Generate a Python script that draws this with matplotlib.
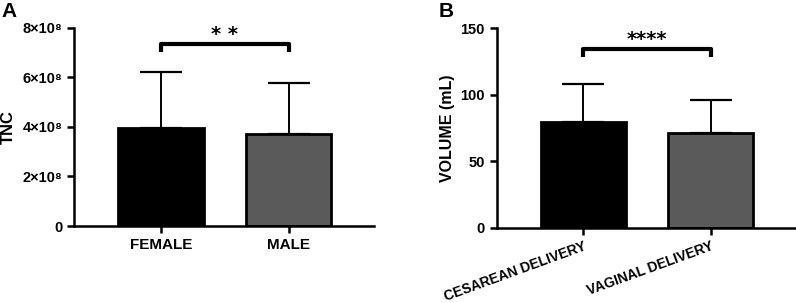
import numpy as np
import matplotlib
matplotlib.use('Agg')
from matplotlib import pyplot as plt

plt.rcParams['font.family'] = ['Liberation Sans', 'DejaVu Sans']
plt.rcParams['font.weight'] = 'bold'
plt.rcParams['axes.labelweight'] = 'bold'

# panel A
sex_labels = ['FEMALE', 'MALE']
tnc_mean = [3.96e8, 3.70e8]
tnc_sd = [2.25e8, 2.08e8]
tnc_ticks = [0, 2e8, 4e8, 6e8, 8e8]
tnc_ticklabels = ['0', '2×10⁸', '4×10⁸', '6×10⁸', '8×10⁸']

# panel B
delivery_labels = ['CESAREAN DELIVERY', 'VAGINAL DELIVERY']
vol_mean = [79.7, 71.0]
vol_sd = [28.3, 25.0]
vol_ticks = [0, 50, 100, 150]

colors = ['black', '#5a5a5a']

fig = plt.figure(figsize=(7.96, 3.03), dpi=100)
axA = fig.add_axes([0.093, 0.254, 0.377, 0.654])
axB = fig.add_axes([0.624, 0.249, 0.376, 0.657])


def bars(ax, labels, mean, sd):
    x = np.arange(len(labels))
    ax.bar(x, mean, width=0.67, color=colors, edgecolor='black', linewidth=2, zorder=2)
    ax.errorbar(x, mean, yerr=[np.zeros(len(sd)), sd], fmt='none', ecolor='black',
                elinewidth=1.4, capsize=15, capthick=1.6, zorder=1)
    ax.set_xlim(-0.68, 1.67)
    ax.set_xticks(x)
    for s in ['top', 'right']:
        ax.spines[s].set_visible(False)
    for s in ['left', 'bottom']:
        ax.spines[s].set_linewidth(1.8)
    ax.tick_params(width=1.8, length=5, labelsize=10.5)
    return x


def bracket(ax, x0, x1, y, h, text, ty):
    ax.plot([x0, x0, x1, x1], [y - h, y, y, y - h], color='black', lw=3,
            solid_capstyle='butt', clip_on=False)
    ax.text((x0 + x1) / 2, ty, text, ha='center', va='center', fontsize=14,
            family='DejaVu Sans', fontweight='bold', clip_on=False)


x = bars(axA, sex_labels, tnc_mean, tnc_sd)
axA.set_ylim(0, 8e8)
axA.set_yticks(tnc_ticks)
axA.set_yticklabels(tnc_ticklabels, fontweight='bold')
axA.set_xticklabels(sex_labels, fontsize=11, fontweight='bold')
axA.set_ylabel('TNC', fontsize=12, fontweight='bold')
axA.yaxis.set_label_coords(-0.195, 0.5)
bracket(axA, x[0], x[1], 7.34e8, 0.3e8, '* *', 7.72e8)

x = bars(axB, delivery_labels, vol_mean, vol_sd)
axB.set_ylim(0, 150)
axB.set_yticks(vol_ticks)
axB.set_yticklabels([str(v) for v in vol_ticks], fontweight='bold')
axB.set_xticklabels(delivery_labels, fontsize=10, fontweight='bold', rotation=20,
                    ha='right', rotation_mode='anchor')
axB.set_ylabel('VOLUME (mL)', fontsize=11.5, fontweight='bold')
axB.yaxis.set_label_coords(-0.139, 0.5)
bracket(axB, x[0], x[1], 134.6, 6.4, '****', 142)

fig.text(0.002, 0.995, 'A', fontsize=15, fontweight='bold', va='top', ha='left')
fig.text(0.551, 0.995, 'B', fontsize=15, fontweight='bold', va='top', ha='left')

plt.savefig('out.png', dpi=100)
